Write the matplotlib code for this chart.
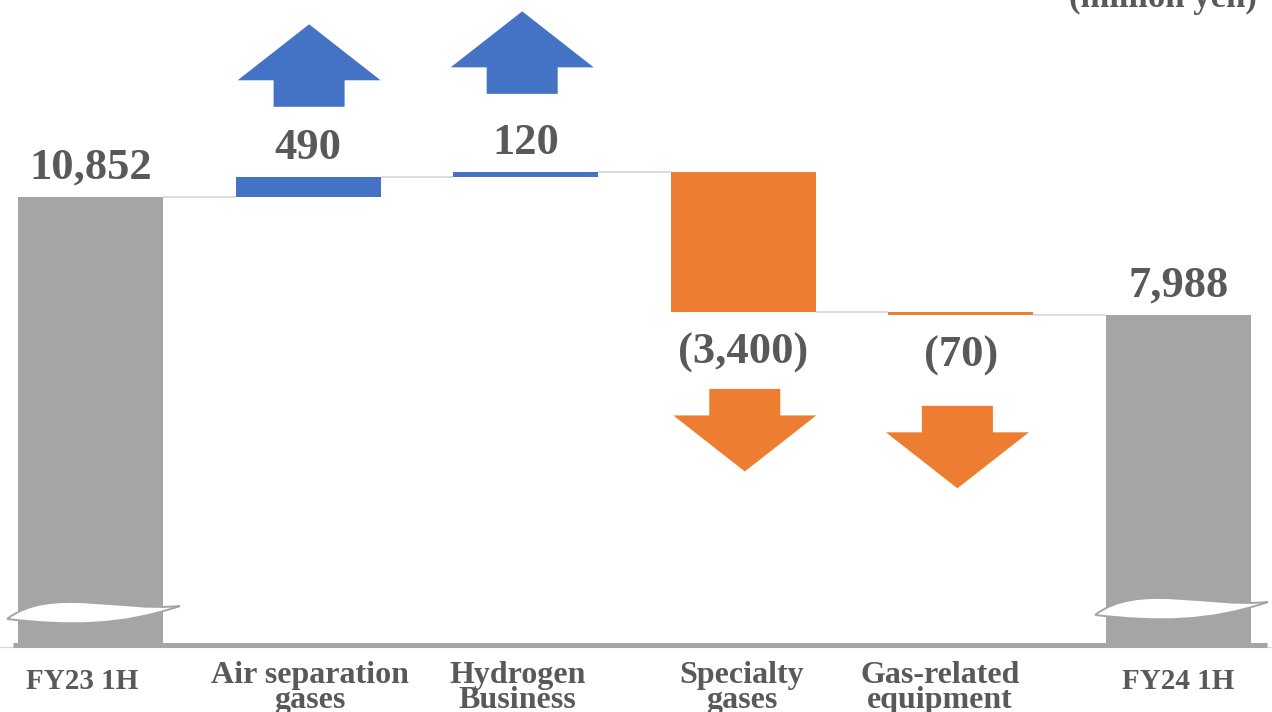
import matplotlib
matplotlib.use("Agg")
import matplotlib.pyplot as plt
from matplotlib.patches import Polygon, PathPatch
from matplotlib.path import Path

# ---- data -------------------------------------------------------------
categories = ["FY23 1H", "Air separation\ngases", "Hydrogen\nBusiness",
              "Specialty\ngases", "Gas-related\nequipment", "FY24 1H"]
start_total = 10852
changes = [490, 120, -3400, -70]
end_total = 7988
value_labels = ["10,852", "490", "120", "(3,400)", "(70)", "7,988"]
unit_label = "(million yen)"

# ---- style ------------------------------------------------------------
GRAY = "#A5A5A5"
BLUE = "#4472C4"
ORANGE = "#ED7D31"
TEXT = "#595959"
CONNECT = "#D9D9D9"
SERIF = ["Liberation Serif", "DejaVu Serif"]

W, H, DPI = 1272, 712, 100
SLOT = 217.6          # pixels per category
X0 = 90.5             # pixel x of first category centre
KY = 0.041201         # pixels per million yen
BASE = 644.1          # pixel row of zero

fig = plt.figure(figsize=(W / DPI, H / DPI), dpi=DPI)
ax = fig.add_axes([0, 0, 1, 1])
ax.set_xlim(-X0 / SLOT, (W - X0) / SLOT)
ax.set_ylim(-(H - BASE) / KY, BASE / KY)
ax.axis("off")

px_x = 1.0 / SLOT     # one pixel in category units
px_y = 1.0 / KY       # one pixel in value units

# ---- waterfall geometry ----------------------------------------------
n = len(categories)
xs = list(range(n))
bottoms, heights, colors = [0], [start_total], [GRAY]
level = start_total
levels = [level]
for c in changes:
    if c >= 0:
        bottoms.append(level)
        heights.append(c)
        colors.append(BLUE)
    else:
        bottoms.append(level + c)
        heights.append(-c)
        colors.append(ORANGE)
    level += c
    levels.append(level)
bottoms.append(0)
heights.append(end_total)
colors.append(GRAY)

bar_w = 145 / SLOT
ax.bar(xs, heights, bottom=bottoms, width=bar_w, color=colors,
       linewidth=0, zorder=2)

# connectors between neighbouring bars
for i in range(n - 1):
    ax.plot([i + bar_w / 2, i + 1 - bar_w / 2], [levels[i], levels[i]],
            color=CONNECT, lw=1.3, zorder=1, solid_capstyle="butt")

# ---- axis-break waves on the total bars -------------------------------
def wave(xc, lift):
    top = [(-83.5, 25.1), (-40.5, 58.0), (29.5, 32.1), (89.5, 38.1)]
    bot = [(29.5, 18.0), (-20.5, 18.0), (-83.5, 25.1)]
    pts = top + bot
    verts = [(xc + dx * px_x, (dy + lift) * px_y) for dx, dy in pts]
    codes = [Path.MOVETO, Path.CURVE4, Path.CURVE4, Path.CURVE4,
             Path.CURVE4, Path.CURVE4, Path.CURVE4]
    ax.add_patch(PathPatch(Path(verts, codes), facecolor="white",
                           edgecolor=GRAY, lw=1.4, zorder=3))

wave(xs[0], 0)
wave(xs[-1], 4)

# baseline
ax.plot([-X0 / SLOT, (W - X0) / SLOT], [-2.5 * px_y] * 2, color=CONNECT,
        lw=0.9, zorder=4)
ax.plot([(13 - X0) / SLOT, (1267 - X0) / SLOT], [-0.4 * px_y] * 2,
        color=GRAY, lw=3.6, zorder=5, solid_capstyle="butt")

# ---- value labels -----------------------------------------------------
for i in range(n):
    top = bottoms[i] + heights[i]
    if colors[i] == ORANGE:
        y = bottoms[i] - 52 * px_y
    else:
        y = top + 18 * px_y
    ax.text(xs[i], y, value_labels[i], ha="center", va="baseline",
            fontsize=32, fontweight="bold", color=TEXT, family=SERIF,
            zorder=6)

# ---- direction arrows -------------------------------------------------
arrow_gap = {1: 70, 2: 78, 3: 77, 4: 91}
arrow_dx = {1: 1, 2: -3.5, 3: 1.5, 4: -3.5}
HEAD_HW, SHAFT_HW, HEAD_H, SHAFT_H = 71.5, 35.5, 56, 26.5
for i, gap in arrow_gap.items():
    xc = xs[i] + arrow_dx[i] * px_x
    if colors[i] == BLUE:
        b = bottoms[i] + heights[i] + gap * px_y
        s = 1
    else:
        b = bottoms[i] - gap * px_y
        s = -1
    shape = [(-SHAFT_HW, 0), (SHAFT_HW, 0), (SHAFT_HW, SHAFT_H),
             (HEAD_HW, SHAFT_H), (0, SHAFT_H + HEAD_H),
             (-HEAD_HW, SHAFT_H), (-SHAFT_HW, SHAFT_H)]
    verts = [(xc + dx * px_x, b + s * dy * px_y) for dx, dy in shape]
    ax.add_patch(Polygon(verts, closed=True, facecolor=colors[i],
                         edgecolor="none", zorder=6))

# ---- category labels --------------------------------------------------
# multi-line labels are anchored on the baseline of their last line
label_dx = [-8, 2, -8, -1.5, -21, 0]
for i, cat in enumerate(categories):
    two_line = "\n" in cat
    ax.text(xs[i] + label_dx[i] * px_x,
            (BASE - (708 if two_line else 689)) * px_y, cat,
            ha="center", va="baseline", ma="center",
            fontsize=23 if two_line else 21, fontweight="bold",
            color=TEXT, family=SERIF, linespacing=0.8, zorder=6)

fig.text(1257 / W, 1 - 7 / H, unit_label, ha="right", va="baseline",
         fontsize=25, fontweight="bold", color=TEXT, family=SERIF)

fig.savefig("out.png", dpi=DPI)
